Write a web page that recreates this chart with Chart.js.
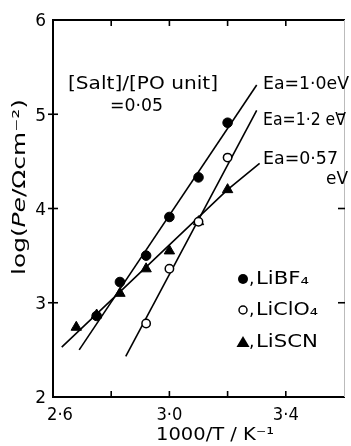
<!DOCTYPE html>
<html>
<head>
<meta charset="utf-8">
<script src="https://cdn.jsdelivr.net/npm/chart.js@4/dist/chart.umd.min.js"></script>
<style>
html,body{margin:0;padding:0;background:#fff;}
#wrap{width:351px;height:446px;position:relative;}
</style>
</head>
<body>
<div id="wrap"><canvas id="c" width="351" height="446"></canvas></div>
<script>
// ---- data ----
const xLiBF4 = [2.75, 2.83, 2.92, 3.00, 3.10, 3.20];
const yLiBF4 = [2.86, 3.22, 3.50, 3.91, 4.33, 4.91];
const xLiClO4 = [2.92, 3.00, 3.10, 3.20];
const yLiClO4 = [2.78, 3.36, 3.86, 4.54];
const xLiSCN = [2.68, 2.75, 2.83, 2.92, 3.00, 3.10, 3.20];
const yLiSCN = [2.74, 2.87, 3.10, 3.36, 3.55, 3.86, 4.20];
// fitted lines (end points)
const fitLiBF4X = [2.69, 3.30];
const fitLiBF4Y = [2.50, 5.31];
const fitLiClO4X = [2.85, 3.30];
const fitLiClO4Y = [2.43, 5.04];
const fitLiSCNX = [2.63, 3.20, 3.31];
const fitLiSCNY = [2.53, 4.20, 4.48];
// ticks
const xTickValues = [2.6, 3.0, 3.4];
const xTickLabels = ['2·6', '3·0', '3·4'];
const xMinorTicks = [2.8, 3.0, 3.2, 3.4];
const yTickValues = [2, 3, 4, 5, 6];
const yTickLabels = ['2', '3', '4', '5', '6'];
const seriesNames = ['LiBF₄', 'LiClO₄', 'LiSCN'];

const pts = (xs, ys) => xs.map((x, i) => ({x: x, y: ys[i]}));
const FONT = '"DejaVu Sans"';

function txt(ctx, s, x, y, size, width, align, style) {
  ctx.save();
  ctx.font = (style || '') + ' ' + size + 'px ' + FONT;
  const m = ctx.measureText(s).width;
  const sx = width ? width / m : 1;
  ctx.translate(x, y);
  ctx.scale(sx, 1);
  ctx.textAlign = align || 'left';
  ctx.textBaseline = 'middle';
  ctx.fillStyle = '#000';
  ctx.fillText(s, 0, 0);
  ctx.restore();
}

const decor = {
  id: 'decor',
  afterDatasetsDraw(chart) {
    const ctx = chart.ctx;
    const xs = chart.scales.x, ys = chart.scales.y;
    const a = chart.chartArea;
    ctx.save();
    ctx.strokeStyle = '#000';
    ctx.fillStyle = '#000';
    // top border
    ctx.lineWidth = 2;
    ctx.beginPath(); ctx.moveTo(a.left, a.top); ctx.lineTo(a.right + 1, a.top); ctx.stroke();
    // faint right border
    ctx.lineWidth = 1; ctx.strokeStyle = '#bbb';
    ctx.beginPath(); ctx.moveTo(a.right + 0.5, a.top); ctx.lineTo(a.right + 0.5, a.bottom); ctx.stroke();
    ctx.strokeStyle = '#000';
    ctx.lineWidth = 1.6;
    // x ticks (bottom inward, top inward)
    xMinorTicks.forEach(v => {
      const px = xs.getPixelForValue(v);
      ctx.beginPath(); ctx.moveTo(px, a.bottom); ctx.lineTo(px, a.bottom - 6); ctx.stroke();
      ctx.beginPath(); ctx.moveTo(px, a.top); ctx.lineTo(px, a.top + 6); ctx.stroke();
    });
    // y ticks
    [3, 4, 5].forEach(v => {
      const py = ys.getPixelForValue(v);
      ctx.beginPath(); ctx.moveTo(a.left - 5, py); ctx.lineTo(a.left + 5, py); ctx.stroke();
      ctx.beginPath(); ctx.moveTo(a.right + 1, py); ctx.lineTo(a.right - 6, py); ctx.stroke();
    });
    // tick labels
    xTickValues.forEach((v, i) => {
      let px = xs.getPixelForValue(v);
      if (i === 0) px += 7;
      txt(ctx, xTickLabels[i], px, a.bottom + 19, 17, 26, 'center');
    });
    yTickValues.forEach((v, i) => {
      const py = ys.getPixelForValue(v);
      txt(ctx, yTickLabels[i], a.left - 7, py + 2, 17, null, 'right');
    });
    // axis titles
    txt(ctx, '1000/T / K⁻¹', 215, 436, 17, 118, 'center');
    // y title rotated with italic Pe
    ctx.save();
    ctx.translate(21, 187);
    ctx.rotate(-Math.PI / 2);
    const parts = [['log(', ''], ['Pe', 'italic'], ['/Ωcm⁻²)', '']];
    let total = 0;
    parts.forEach(p => { ctx.font = p[1] + ' 17px ' + FONT; total += ctx.measureText(p[0]).width; });
    const target = 176;
    const sc = target / total;
    ctx.scale(sc, 1);
    let cx = -total / 2;
    ctx.textBaseline = 'middle'; ctx.textAlign = 'left';
    parts.forEach(p => { ctx.font = p[1] + ' 17px ' + FONT; ctx.fillText(p[0], cx, 0); cx += ctx.measureText(p[0]).width; });
    ctx.restore();
    // annotations
    txt(ctx, '[Salt]/[PO unit]', 68, 85, 17, 150, 'left');
    txt(ctx, '=0·05', 110, 107, 17, 53, 'left');
    txt(ctx, 'Ea=1·0eV', 263, 85, 17, 86, 'left');
    txt(ctx, 'Ea=1·2 eV', 263, 121, 17, 83, 'left');
    txt(ctx, 'Ea=0·57', 263, 160, 17, 75, 'left');
    txt(ctx, 'eV', 326, 180, 17, 22, 'left');
    // legend
    const lx = 243, ly = [279, 310, 342];
    ctx.lineWidth = 1.5;
    ctx.beginPath(); ctx.arc(lx, ly[0], 5, 0, Math.PI * 2); ctx.fill();
    ctx.beginPath(); ctx.arc(lx, ly[1], 4, 0, Math.PI * 2); ctx.fillStyle = '#fff'; ctx.fill(); ctx.stroke();
    ctx.fillStyle = '#000';
    ctx.beginPath(); ctx.moveTo(lx, ly[2] - 6); ctx.lineTo(lx + 6.5, ly[2] + 5); ctx.lineTo(lx - 6.5, ly[2] + 5); ctx.closePath(); ctx.fill();
    const lw = [53, 62, 62];
    seriesNames.forEach((n, i) => {
      txt(ctx, ',', 249, ly[i] + 1, 17, null, 'left');
      txt(ctx, n, 256, ly[i] + 1, 17, lw[i], 'left');
    });
    ctx.restore();
  }
};

new Chart(document.getElementById('c'), {
  type: 'scatter',
  data: {
    datasets: [
      {label: 'fit LiBF4', data: pts(fitLiBF4X, fitLiBF4Y), showLine: true, borderColor: '#000', borderWidth: 1.6, pointRadius: 0, order: 5},
      {label: 'fit LiClO4', data: pts(fitLiClO4X, fitLiClO4Y), showLine: true, borderColor: '#000', borderWidth: 1.6, pointRadius: 0, order: 5},
      {label: 'fit LiSCN', data: pts(fitLiSCNX, fitLiSCNY), showLine: true, borderColor: '#000', borderWidth: 1.6, pointRadius: 0, order: 5},
      {label: 'LiSCN', data: pts(xLiSCN, yLiSCN), pointStyle: 'triangle', pointRadius: 6, backgroundColor: '#000', borderColor: '#000', borderWidth: 1, order: 3},
      {label: 'LiBF4', data: pts(xLiBF4, yLiBF4), pointStyle: 'circle', pointRadius: 4.8, backgroundColor: '#000', borderColor: '#000', borderWidth: 1, order: 2},
      {label: 'LiClO4', data: pts(xLiClO4, yLiClO4), pointStyle: 'circle', pointRadius: 4.2, backgroundColor: '#fff', borderColor: '#000', borderWidth: 1.5, order: 1}
    ]
  },
  options: {
    responsive: false,
    animation: false,
    devicePixelRatio: 1,
    layout: {padding: {left: 53, top: 20, right: 1, bottom: 49}},
    plugins: {legend: {display: false}, tooltip: {enabled: false}},
    scales: {
      x: {type: 'linear', min: 2.6, max: 3.6, ticks: {display: false}, grid: {display: false, drawTicks: false}, border: {display: true, color: '#000', width: 2}},
      y: {type: 'linear', min: 2, max: 6, ticks: {display: false}, grid: {display: false, drawTicks: false}, border: {display: true, color: '#000', width: 2}}
    }
  },
  plugins: [decor]
});
</script>
</body>
</html>
